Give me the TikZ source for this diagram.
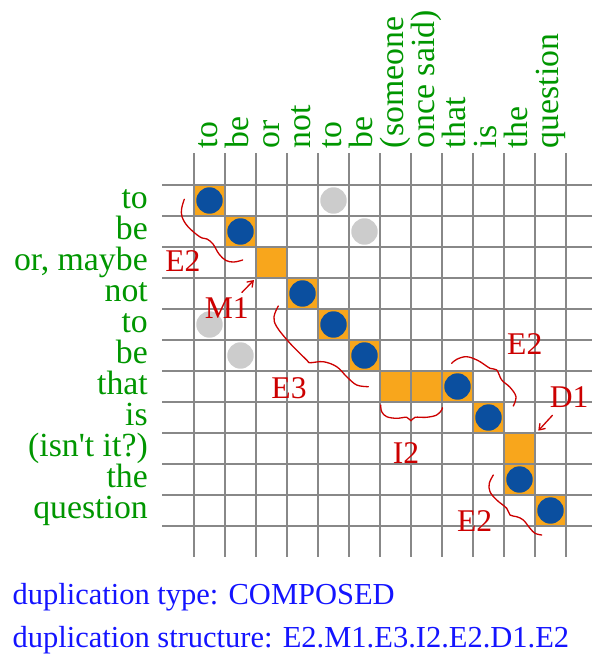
\documentclass[tikz,border=0pt]{standalone}
\usepackage{fontspec}
\setmainfont{Liberation Serif}
\usetikzlibrary{arrows.meta}
\definecolor{gridgray}{RGB}{136,136,136}
\definecolor{cellorange}{RGB}{248,166,28}
\definecolor{dotblue}{RGB}{11,79,159}
\definecolor{dotgray}{RGB}{204,204,204}
\definecolor{wordgreen}{RGB}{0,150,0}
\definecolor{tagred}{RGB}{204,0,0}
\definecolor{noteblue}{RGB}{20,20,255}

\begin{document}
\begin{tikzpicture}[
  x=1cm, y=1cm,
  >={Straight Barb[length=5pt,width=7pt]},
  grid/.style={draw=gridgray, line width=1.8pt},
  cell/.style={fill=cellorange},
  hit/.style={fill=dotblue},
  echo/.style={fill=dotgray},
  word/.style={text=wordgreen, font=\fontsize{31}{36}\selectfont, inner sep=0pt},
  tag/.style={text=tagred, font=\fontsize{29}{34}\selectfont, inner sep=1pt},
  wave/.style={draw=tagred, line width=1.2pt, line cap=round},
  note/.style={text=noteblue, font=\fontsize{28}{33}\selectfont, inner sep=0pt, anchor=base west}
]
  \useasboundingbox (-6.258,5.968) rectangle (12.839,-15.129);

  \foreach \c/\r in {0/0,1/1,2/2,3/3,4/4,5/5,6/6,7/6,8/6,9/7,10/8,10/9,11/10}
    \fill[cell] (\c,-\r) rectangle ++(1,-1);
  \foreach \c in {0,...,12}
    \draw[grid] (\c,1.03) -- (\c,-12);
  \foreach \r in {0,...,11}
    \draw[grid] (-1.03,-\r) -- (12.84,-\r);
  \foreach \c/\r in {0/0,1/1,3/3,4/4,5/5,8/6,9/7,10/9,11/10}
    \fill[hit] (\c+0.5,-\r-0.5) circle (0.426);
  \foreach \c/\r in {4/0,5/1,0/4,1/5}
    \fill[echo] (\c+0.5,-\r-0.5) circle (0.426);

  \foreach \w [count=\i from 0] in {to,be,or,not,to,be,{(someone},{once said)},that,is,the,question}
    \node[word, rotate=90, anchor=base west] (col\i) at (\i+0.774,1.18) {\w};
  \foreach \w [count=\i from 0] in {to,be,{or, maybe},not,to,be,that,is,{(isn\textquotesingle t it?)},the,question}
    \node[word, anchor=base east] (row\i) at (-1.484,-\i-0.742) {\w};

  \node[tag] (e2a) at (-0.355,-2.45) {E2};
  \node[tag] (m1) at (1.055,-3.97) {M1};
  \node[tag] (e3) at (3.065,-6.56) {E3};
  \node[tag] (i2) at (6.84,-8.645) {I2};
  \node[tag] (e2b) at (10.67,-5.125) {E2};
  \node[tag] (d1) at (12.1,-6.845) {D1};
  \node[tag] (e2c) at (9.05,-10.84) {E2};
  \coordinate (m1tip) at (1.935,-3.065);
  \coordinate (d1tip) at (11.106,-7.926);

  \draw[wave] plot[smooth, tension=0.6] coordinates {(-0.313,-0.461) (-0.397,-0.752) (-0.387,-1.023)
    (-0.194,-1.345) (0.194,-1.677) (0.419,-1.742) (0.613,-1.903) (0.806,-2.226) (1.032,-2.435)
    (1.290,-2.484) (1.571,-2.419)};
  \draw[wave] plot[smooth, tension=0.6] coordinates {(2.719,-3.903) (2.581,-4.248) (2.668,-4.571)
    (3.097,-5.106) (3.635,-5.645) (3.742,-5.732) (4.171,-5.700) (4.603,-5.861) (4.926,-6.184)
    (5.248,-6.452) (5.623,-6.506)};
  \draw[wave] plot[smooth, tension=0.6] coordinates {(6.023,-7.097) (6.055,-7.313) (6.216,-7.474)
    (6.539,-7.526) (6.861,-7.494) (7.0,-7.603) (7.129,-7.494) (7.506,-7.494) (7.829,-7.419)
    (7.990,-7.258) (8.010,-7.184)};
  \draw[wave] plot[smooth, tension=0.6] coordinates {(8.313,-5.752) (8.474,-5.623) (8.797,-5.539)
    (9.171,-5.668) (9.548,-5.913) (9.765,-5.968) (9.926,-6.290) (10.194,-6.526) (10.387,-6.829)
    (10.300,-7.129)};
  \draw[wave] plot[smooth, tension=0.6] coordinates {(9.655,-9.355) (9.526,-9.623) (9.548,-9.894)
    (9.765,-10.161) (10.087,-10.429) (10.194,-10.645) (10.410,-10.700) (10.623,-10.806)
    (10.839,-11.074) (11.0,-11.235) (11.216,-11.290)};
  \draw[wave, ->, shorten <=5pt] (m1) -- (m1tip);
  \draw[wave, ->, shorten <=8pt] (d1) -- (d1tip);

  \node[note] (kind) at (-5.86,-13.548) {duplication type: COMPOSED};
  \node[note] (chain) at (-5.86,-14.926) {duplication structure: E2.M1.E3.I2.E2.D1.E2};
\end{tikzpicture}
\end{document}
